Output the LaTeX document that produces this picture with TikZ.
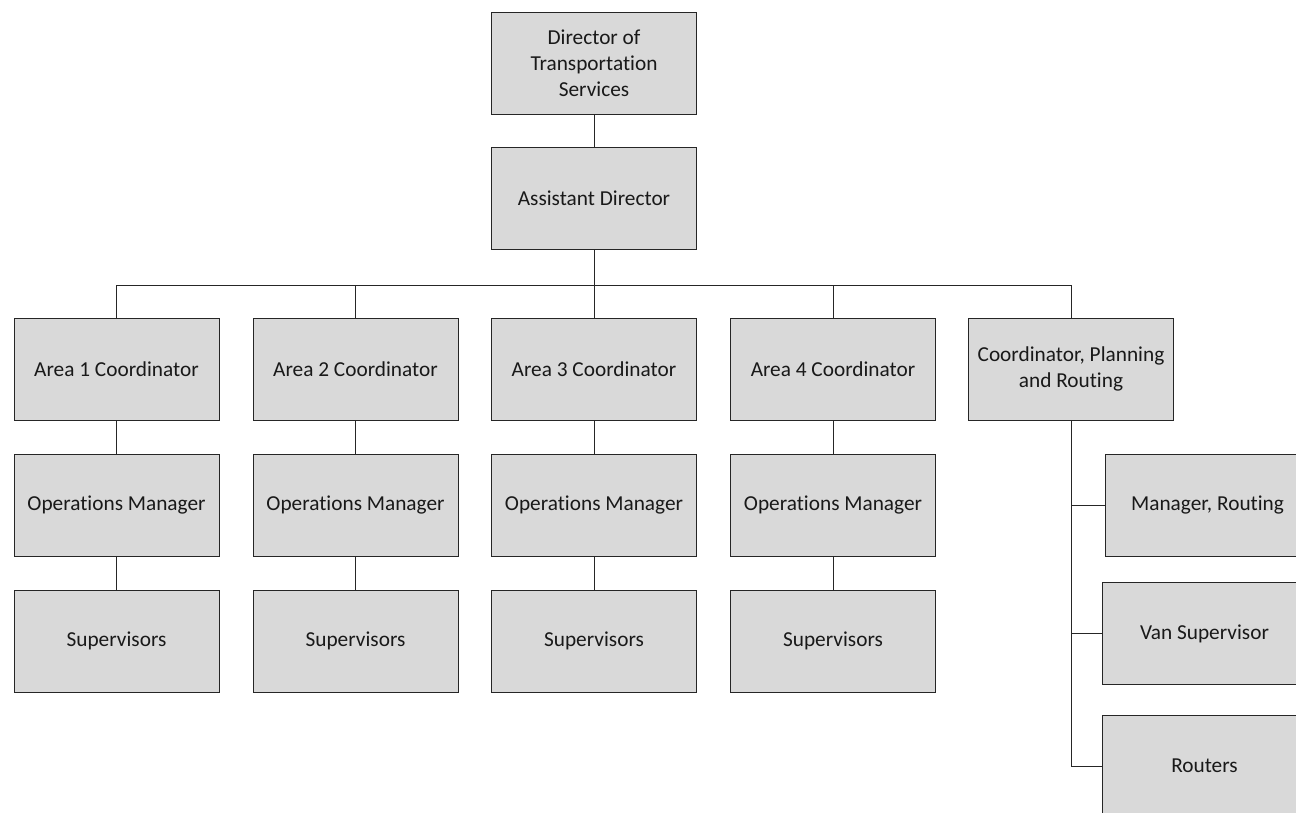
\documentclass[tikz,border=0pt]{standalone}
\usepackage{fontspec}
\setmainfont{Carlito}[Ligatures={NoCommon}]
\begin{document}
\begin{tikzpicture}[x=1pt,y=-1pt,
  orgbox/.style={draw=black!85,line width=0.9pt,fill=black!15,minimum width=205pt,minimum height=102pt,
    align=center,inner sep=2pt,font=\fontsize{21.3}{26}\selectfont,text=black!90},
  link/.style={draw=black!85,line width=0.9pt}]
\useasboundingbox (0,0) rectangle (1296,812);
\begin{scope}
\clip (0,0) rectangle (1296,812);
% top of the hierarchy
\node[orgbox] (dir) at (594,63) {Director of\\Transportation\\Services};
\node[orgbox] (asst) at (594,198.5) {Assistant Director};
% coordinators
\node[orgbox] (a1) at (116.5,369) {Area 1 Coordinator};
\node[orgbox] (a2) at (355.5,369) {Area 2 Coordinator};
\node[orgbox] (a3) at (594,369) {Area 3 Coordinator};
\node[orgbox] (a4) at (833,369) {Area 4 Coordinator};
\node[orgbox] (cpr) at (1071,369) {Coordinator, Planning\\and Routing};
% operations managers
\node[orgbox] (o1) at (116.5,505) {Operations Manager};
\node[orgbox] (o2) at (355.5,505) {Operations Manager};
\node[orgbox] (o3) at (594,505) {Operations Manager};
\node[orgbox] (o4) at (833,505) {Operations Manager};
% supervisors
\node[orgbox] (s1) at (116.5,641) {Supervisors};
\node[orgbox] (s2) at (355.5,641) {Supervisors};
\node[orgbox] (s3) at (594,641) {Supervisors};
\node[orgbox] (s4) at (833,641) {Supervisors};
% planning and routing staff
\node[orgbox] (mr) at (1207.5,505) {Manager, Routing};
\node[orgbox] (vs) at (1204.5,633.5) {Van Supervisor};
\node[orgbox] (rt) at (1204.5,766) {Routers};
% connectors
\coordinate (bus) at (594,285);
\draw[link] (dir) -- (asst);
\draw[link] (asst.south) -- (bus);
\foreach \n in {a1,a2,a3,a4,cpr}{
  \draw[link] (bus) -| (\n.north);
}
\foreach \a/\b in {a1/o1,a2/o2,a3/o3,a4/o4,o1/s1,o2/s2,o3/s3,o4/s4}{
  \draw[link] (\a) -- (\b);
}
\draw[link] (cpr.south) |- (mr.west);
\draw[link] (cpr.south) |- (vs.west);
\draw[link] (cpr.south) |- (rt.west);
\end{scope}
\end{tikzpicture}
\end{document}
